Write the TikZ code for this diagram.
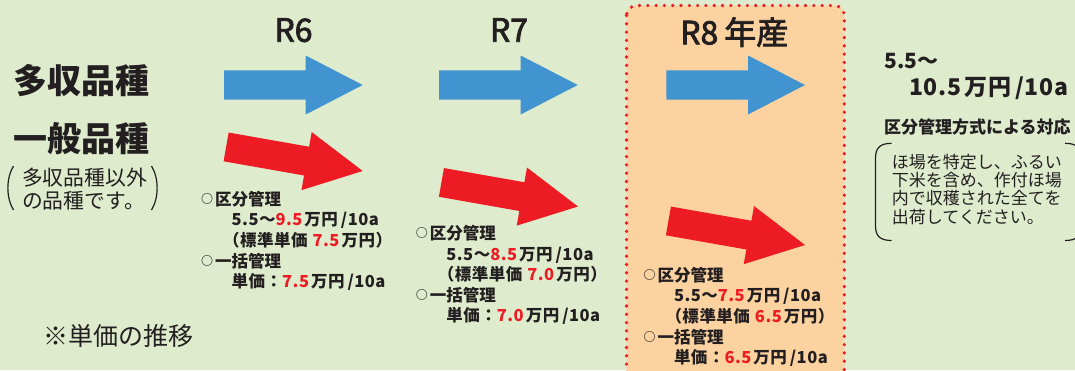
\documentclass[tikz,border=0pt]{standalone}
\usepackage{fontspec}
\setmainfont{Noto Sans CJK JP}
\newfontfamily\medjp{Noto Sans CJK JP}[FakeBold=2.5]
\definecolor{bgc}{RGB}{222,236,205}
\definecolor{peach}{RGB}{252,211,160}
\definecolor{myred}{RGB}{237,28,36}
\definecolor{myblue}{RGB}{66,148,208}
\definecolor{ink}{RGB}{35,31,32}
\newcommand\jfs[1]{\fontsize{#1}{#1}\selectfont}
\newcommand\redt[1]{\textcolor{myred}{#1}}
\newcommand\smallcirc{\raisebox{2pt}{\jfs{12}○}\hspace{2pt}}
\tikzset{
  bigarrow/.pic={\fill[#1] (-138.7,-14.6) -- (-57,-14.6) -- (-57,-29.5) -- (0,0) -- (-57,29.5) -- (-57,14.6) -- (-138.7,14.6) -- cycle;},
  lab/.style={inner sep=0pt,text=ink,anchor=west},
  sm/.style={lab,font=\bfseries\jfs{16.5}},
  smw/.style={sm,font=\bfseries\jfs{16.5}\addfontfeature{LetterSpace=3}},
  year/.style={inner sep=0pt,text=ink,anchor=base,font=\medjp\jfs{32}},
  bracket/.style={draw=ink,line width=1.2pt},
}
\newcommand\priceblock[5]{%
  \begin{scope}[shift={(#2,#3)}]
    \node[sm] (#1a) at (0,0) {\smallcirc 区分管理};
    \node[smw] (#1b) at (30.5,21.5) {5.5〜\redt{#4}\hspace{2pt}万円\hspace{3pt}/10a};
    \node[smw] (#1c) at (22,41) {（標準単価\hspace{5pt}\redt{#5}\hspace{2pt}万円）};
    \node[sm] (#1d) at (0,62) {\smallcirc 一括管理};
    \node[smw] (#1e) at (30.5,82.5) {単価：\redt{#5}\hspace{2pt}万円\hspace{3pt}/10a};
  \end{scope}}
\begin{document}
\begin{tikzpicture}[x=1pt,y=-1pt]
\fill[bgc] (0,0) rectangle (1075,370);
\useasboundingbox (0,0) rectangle (1075,370);
\clip (0,0) rectangle (1075,370);
% R8 highlight box
\draw[fill=peach, draw=myred, line width=3.6pt, dash pattern=on 0pt off 8.3pt, line cap=round, rounded corners=10pt] (626.5,5.5) rectangle (844.3,420);
% year labels
\node[year] (r6) at (293.5,41.7) {R6};
\node[year] (r7) at (509,41.7) {R7};
\node[year,anchor=base west] (r8) at (680,44.3) {R8\hspace{6pt}年産};
% left labels
\node[lab,anchor=center,font=\bfseries\jfs{34}] (tashu) at (81.5,81) {多収品種};
\node[lab,anchor=center,font=\bfseries\jfs{34}] (ippan) at (81.5,139) {一般品種};
\node[lab,anchor=center,align=left,font=\fontsize{20.8}{23}\selectfont] (sub) at (84.5,189) {多収品種以外\\の品種です。};
\draw[bracket] (13.5,166) .. controls (6,178) and (6,198) .. (13.5,210);
\draw[bracket] (151.5,166) .. controls (159,178) and (159,198) .. (151.5,210);
\node[lab,font=\jfs{25}] (note) at (43.3,335.5) {※単価の推移};
% arrows
\pic (bA) at (362.7,85) {bigarrow=myblue};
\pic (bB) at (577.7,85) {bigarrow=myblue};
\pic (bC) at (805,85) {bigarrow=myblue};
\pic[rotate=-10] (rA) at (362.7,171) {bigarrow=myred};
\pic[rotate=-10] (rB) at (578,206.5) {bigarrow=myred};
\pic[rotate=-10] (rC) at (805,245) {bigarrow=myred};
% price blocks
\priceblock{pa}{201}{199.2}{9.5}{7.5}
\priceblock{pb}{415.7}{233.3}{8.5}{7.0}
\priceblock{pc}{643.3}{275}{7.5}{6.5}
% right side
\node[lab,font=\bfseries\jfs{21}] (hi1) at (884,61) {5.5〜};
\node[lab,font=\bfseries\jfs{23}\addfontfeature{LetterSpace=3}] (hi2) at (909,88) {10.5\hspace{3pt}万円\hspace{4pt}/10a};
\node[lab,font=\bfseries\jfs{17}] (taio) at (884,127.5) {区分管理方式による対応};
\node[lab,align=left,font=\fontsize{17}{18.4}\selectfont] (brtext) at (891.7,189.2) {ほ場を特定し、ふるい\\下米を含め、作付ほ場\\内で収穫された全てを\\出荷してください。};
\draw[bracket] (891.7,143.3) .. controls (880,143.3) and (875.5,148) .. (875.5,158) -- (875.5,226) .. controls (875.5,236) and (880,240.5) .. (891.7,240.5);
\draw[bracket] (1065,143.3) .. controls (1076.7,143.3) and (1081.2,148) .. (1081.2,158) -- (1081.2,226) .. controls (1081.2,236) and (1076.7,240.5) .. (1065,240.5);
\end{tikzpicture}
\end{document}
